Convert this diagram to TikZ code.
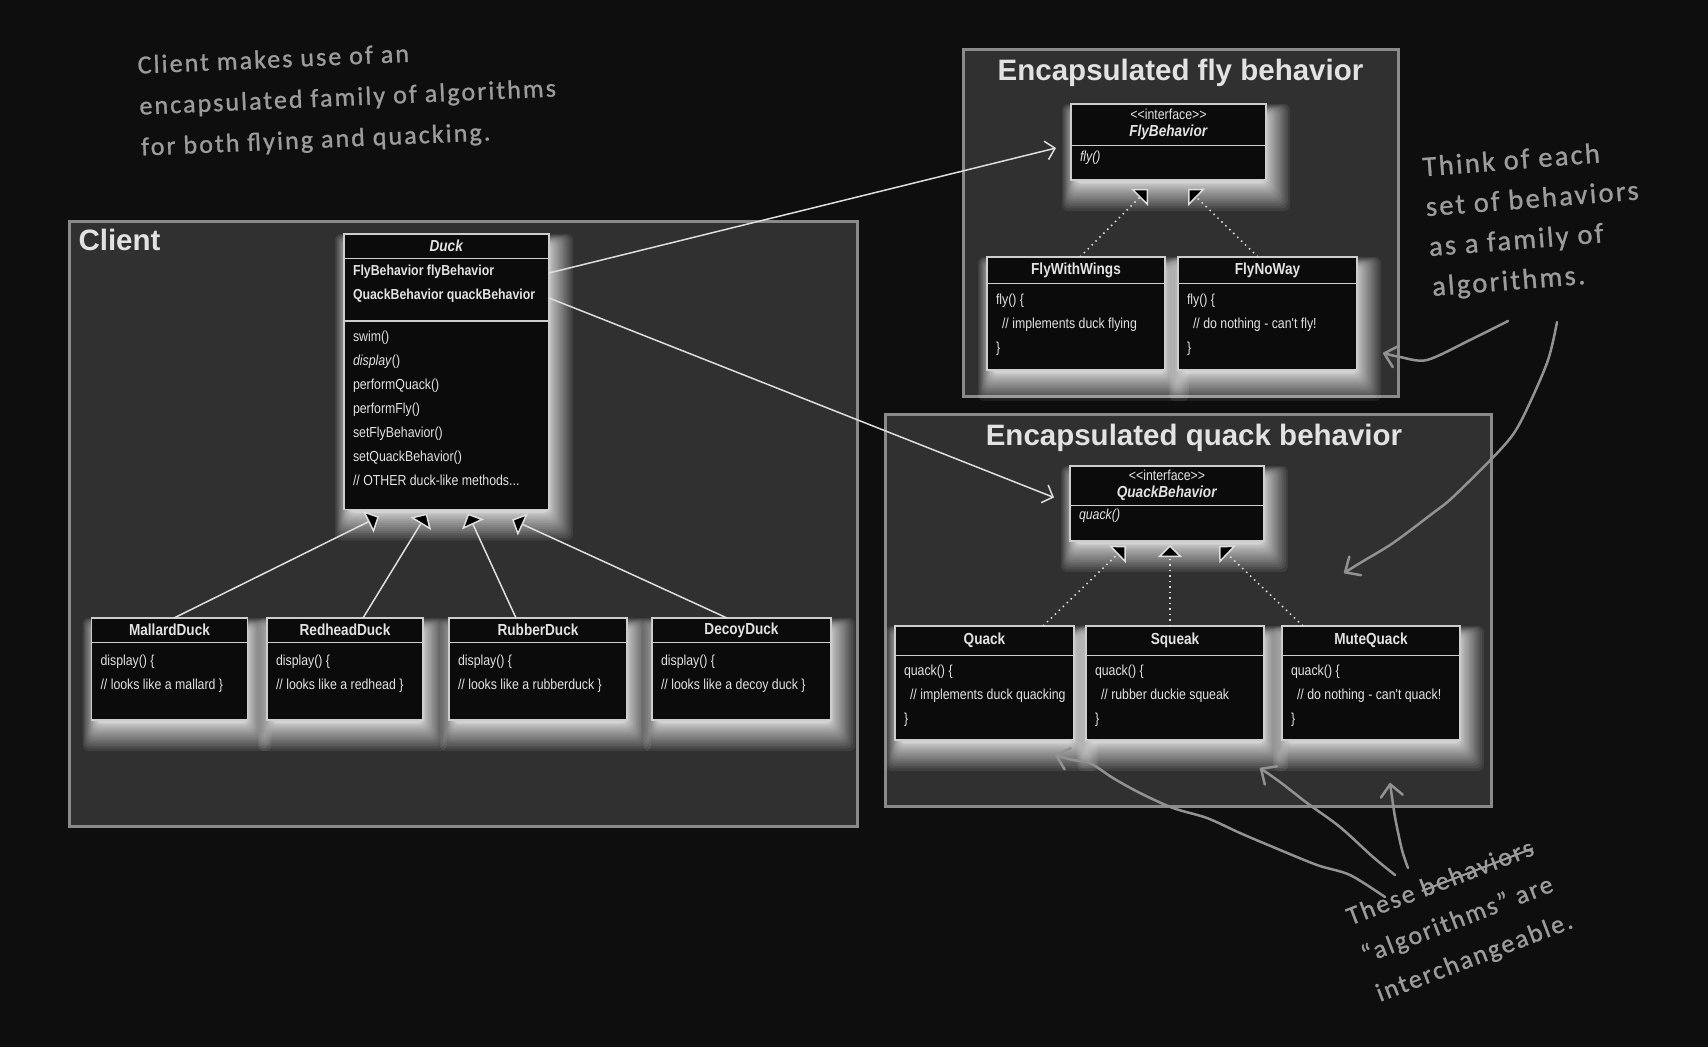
\documentclass[tikz,border=0pt]{standalone}
\usepackage{fontspec}
\setmainfont{Liberation Sans}
\newfontfamily\umlfont[FakeStretch=0.85]{Liberation Sans}
\newfontfamily\handfont[LetterSpace=8,FakeBold=1]{Carlito}
\usetikzlibrary{positioning,calc,shapes.multipart,arrows.meta}
\definecolor{bgc}{HTML}{0E0E0E}
\definecolor{grpfill}{HTML}{303030}
\definecolor{grpline}{HTML}{8A8A8A}
\definecolor{boxfill}{HTML}{0B0B0B}
\definecolor{boxline}{HTML}{CDCDCD}
\definecolor{txtc}{HTML}{E2E2E2}
\definecolor{linec}{HTML}{DEDEDE}
\definecolor{handc}{HTML}{929292}
\definecolor{handtxt}{HTML}{9C9C9C}
\pgfdeclarelayer{back}
\pgfdeclarelayer{halo}
\pgfsetlayers{back,halo,main}

\tikzset{
  umlclass/.style={rectangle split, rectangle split parts=2, draw=boxline,
    fill=boxfill, text=txtc, line width=1.5pt, inner xsep=9pt,
    inner ysep=0pt, outer sep=0pt, font=\umlfont},
  cw/.code={\pgfmathsetmacro\cw{#1-18}},
  group/.style={draw=grpline, fill=grpfill, line width=3pt,
    anchor=north west, inner sep=0pt, outer sep=0pt},
  grouptitle/.style={text=txtc, font=\fontsize{29.5}{32}\selectfont\bfseries},
  note/.style={text=handtxt, font=\handfont\fontsize{26}{41}\selectfont, align=left},
  assoc/.style={draw=linec, line width=1.5pt, -{Straight Barb[length=9pt,width=19pt]}},
  inherit/.style={draw=linec, line width=1.5pt,
    -{Triangle[length=12pt,width=24pt,fill=black]}},
  realize/.style={inherit, dash pattern=on 1.5pt off 4pt},
  hand/.style={draw=handc, line width=2.5pt, line cap=round, line join=round,
    -{Straight Barb[round,length=12pt,width=22pt]}}
}
% header and body of a class box: [height of first line]{box height}{lines}
\newcommand\uhead[2][25]{\parbox[c][#1pt][c]{\cw pt}{\centering\fontsize{16}{17}\selectfont #2}}
\newcommand\ubody[3][20.5]{\parbox[c][#2pt][t]{\cw pt}{\fontsize{14.5}{24}\selectfont
  \raisebox{0pt}[#1pt]{\begin{tabular}[t]{@{}l@{}}#3\end{tabular}}}}
% crossed out word
\newsavebox\strikebox
\newcommand\strike[1]{\sbox\strikebox{#1}\rlap{\usebox\strikebox}\rule[0.45ex]{\wd\strikebox}{2pt}}

\begin{document}
\begin{tikzpicture}[x=1pt,y=1pt]
  \useasboundingbox (0,0) rectangle (1708,-1047);

  % frames of the three groups
  \begin{pgfonlayer}{back}
    \fill[bgc] (0,0) rectangle (1708,-1047);
    \node[group, minimum width=788pt, minimum height=605pt] (client) at (69,-221) {};
    \node[group, minimum width=435pt, minimum height=347pt] (flyg) at (963,-49) {};
    \node[group, minimum width=606pt, minimum height=392pt] (quackg) at (885,-414) {};
  \end{pgfonlayer}
  \node[grouptitle, anchor=west] (clientlbl) at ([shift={(6,-19)}]client.north west) {Client};
  \node[grouptitle] (flytitle) at ([yshift=-24pt]flyg.north) {Encapsulated fly behavior};
  \node[grouptitle] (quacktitle) at ([shift={(6,-24)}]quackg.north) {Encapsulated quack behavior};

  % client classes
  \node[umlclass, rectangle split parts=3, cw=205, anchor=north west] (duck) at (344,-234) {%
    \uhead[23]{\textbf{\textit{Duck}}}%
    \nodepart{two}\ubody[16.5]{61}{\textbf{FlyBehavior flyBehavior}\\\textbf{QuackBehavior quackBehavior}}%
    \nodepart{three}\ubody[19.5]{187}{swim()\\\textit{display}()\\performQuack()\\performFly()\\setFlyBehavior()\\setQuackBehavior()\\// OTHER duck-like methods...}};
  \node[umlclass, cw=156, anchor=north west] (mallard) at (91.5,-618) {%
    \uhead[23]{\textbf{MallardDuck}}\nodepart{two}\ubody[22]{76}{display() \{\\// looks like a mallard \}}};
  \node[umlclass, cw=156, right=19.5pt of mallard] (redhead) {%
    \uhead[23]{\textbf{RedheadDuck}}\nodepart{two}\ubody[22]{76}{display() \{\\// looks like a redhead \}}};
  \node[umlclass, cw=178, right=26pt of redhead] (rubber) {%
    \uhead[23]{\textbf{RubberDuck}}\nodepart{two}\ubody[22]{76}{display() \{\\// looks like a rubberduck \}}};
  \node[umlclass, cw=179, right=25pt of rubber] (decoy) {%
    \uhead[23]{\textbf{DecoyDuck}}\nodepart{two}\ubody[22]{76}{display() \{\\// looks like a decoy duck \}}};

  % fly behaviors
  \node[umlclass, cw=195, anchor=north west] (flyb) at (1071,-104) {%
    \uhead[40]{{\fontsize{14.5}{17}\selectfont\textless\textless interface\textgreater\textgreater}\\\textbf{\textit{FlyBehavior}}}%
    \nodepart{two}\ubody[15.5]{33}{\textit{fly()}}};
  \node[umlclass, cw=178, anchor=north west] (wings) at (987,-257) {%
    \uhead{\textbf{FlyWithWings}}\nodepart{two}\ubody{85}{fly() \{\\\hspace*{6pt}// implements duck flying\\\}}};
  \node[umlclass, cw=179, right=13pt of wings] (noway) {%
    \uhead{\textbf{FlyNoWay}}\nodepart{two}\ubody{85}{fly() \{\\\hspace*{6pt}// do nothing - can't fly!\\\}}};

  % quack behaviors
  \node[umlclass, cw=194, anchor=north west] (quackb) at (1070,-466) {%
    \uhead[38]{{\fontsize{14.5}{17}\selectfont\textless\textless interface\textgreater\textgreater}\\\textbf{\textit{QuackBehavior}}}%
    \nodepart{two}\ubody[13]{34}{\textit{quack()}}};
  \node[umlclass, cw=179, anchor=north west] (quack) at (895,-626) {%
    \uhead[28]{\textbf{Quack}}\nodepart{two}\ubody[19.5]{83}{quack() \{\\\hspace*{6pt}// implements duck quacking\\\}}};
  \node[umlclass, cw=178, right=12pt of quack] (squeak) {%
    \uhead[28]{\textbf{Squeak}}\nodepart{two}\ubody[19.5]{83}{quack() \{\\\hspace*{6pt}// rubber duckie squeak\\\}}};
  \node[umlclass, cw=178, right=18pt of squeak] (mute) {%
    \uhead[28]{\textbf{MuteQuack}}\nodepart{two}\ubody[19.5]{83}{quack() \{\\\hspace*{6pt}// do nothing - can't quack!\\\}}};

  % soft glow under every class box
  \begin{pgfonlayer}{halo}
    \foreach \n in {duck,mallard,redhead,rubber,decoy,flyb,wings,noway,quackb,quack,squeak,mute}
      \foreach \e in {0,...,21} {
        \pgfmathsetmacro\t{(\e/21)^2}
        \fill[white, opacity=0.075, rounded corners=6pt]
          ([shift={({5-14*\t},{-10+10*\t})}]\n.north west) rectangle ([shift={({24*\t},{-3-28*\t})}]\n.south east);
      }
  \end{pgfonlayer}

  % associations
  \draw[assoc] ([yshift=-39pt]duck.north east) -- ([shift={(-15,-6)}]flyb.west);
  \draw[assoc] ([yshift=-64pt]duck.north east) -- ([shift={(-16,6)}]quackb.west);

  % inheritance
  \draw[inherit] ([xshift=4.5pt]mallard.north) -- ([shift={(35,-7)}]duck.south west);
  \draw[inherit] ([xshift=18pt]redhead.north) -- ([shift={(83,-4)}]duck.south west);
  \draw[inherit] ([xshift=-22pt]rubber.north) -- ([shift={(124,-4)}]duck.south west);
  \draw[inherit] ([xshift=-14.5pt]decoy.north) -- ([shift={(168,-10)}]duck.south west);

  \draw[realize] ([xshift=4pt]wings.north) -- ([shift={(77,-9)}]flyb.south west);
  \draw[realize] ([xshift=-9.5pt]noway.north) -- ([shift={(117,-9)}]flyb.south west);
  \draw[realize] ([xshift=58.5pt]quack.north) -- ([shift={(56,-5)}]quackb.south west);
  \draw[realize] ([xshift=-5pt]squeak.north) -- ([shift={(100,-4)}]quackb.south west);
  \draw[realize] ([xshift=-68pt]mute.north) -- ([shift={(149,-5)}]quackb.south west);

  % handwritten notes
  \node[note, rotate=2.5, anchor=west] (clientnote) at (136,-108)
    {Client makes use of an\\encapsulated family of algorithms\\for both flying and quacking.};
  \node[note, rotate=4.5, anchor=west, font=\handfont\fontsize{28.5}{40}\selectfont] (setnote) at (1424,-229)
    {Think of each\\set of behaviors\\as a family of\\algorithms.};
  \node[note, rotate=21] (algnote) at (1460,-920)
    {These \strike{behaviors}\\“algorithms” are\\interchangeable.};

  \coordinate (h1s) at (1508,-321);  \coordinate (h1t) at (1383,-353);
  \coordinate (h2s) at (1557,-322);  \coordinate (h2t) at (1344,-573);
  \coordinate (h3s) at (1385,-897);  \coordinate (h3t) at (1055,-755);
  \coordinate (h4s) at (1395,-875);  \coordinate (h4t) at (1260,-768);
  \coordinate (h5s) at (1408,-868);  \coordinate (h5t) at (1390,-783);

  \draw[hand] plot[smooth] coordinates {(h1s) (1470,-340) (1427,-360) (1400,-357) (h1t)};
  \draw[hand] plot[smooth] coordinates {(h2s) (1547,-363) (1520,-423) (1500,-450)
    (1453,-497) (1433,-513) (1393,-543) (1360,-563) (h2t)};
  \draw[hand] plot[smooth] coordinates {(h3s) (1350,-875) (1317,-865) (1273,-847)
    (1240,-833) (1207,-818) (1173,-808) (1140,-793) (1113,-778) (1090,-763) (1073,-760) (h3t)};
  \draw[hand] plot[smooth] coordinates {(h4s) (1373,-857) (1340,-827) (1307,-803) (1280,-782) (h4t)};
  \draw[hand] plot[smooth] coordinates {(h5s) (1402,-850) (1395,-817) (h5t)};
\end{tikzpicture}
\end{document}
